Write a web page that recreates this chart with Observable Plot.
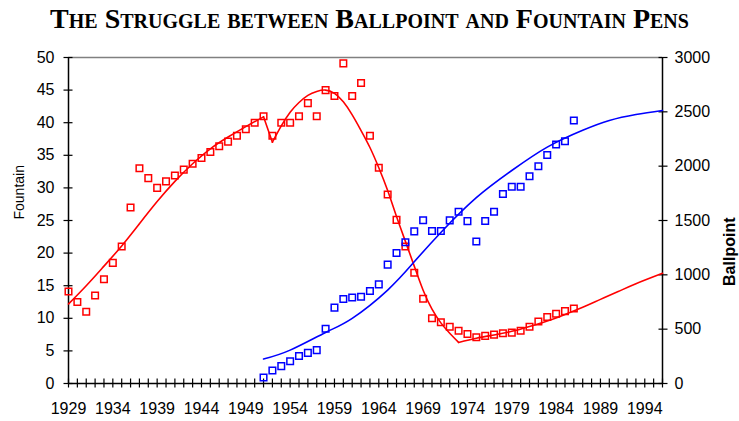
<!DOCTYPE html>
<html>
<head>
<meta charset="utf-8">
<script src="https://cdn.jsdelivr.net/npm/d3@7"></script>
<script src="https://cdn.jsdelivr.net/npm/@observablehq/plot@0.6"></script>
<style>
html, body { margin: 0; padding: 0; background: #fff; }
#wrap { position: relative; width: 739px; height: 421px; }
#title { position: absolute; left: 0; top: 4px; width: 739px; text-align: center;
  font-family: "Liberation Serif", "Times New Roman", serif; font-weight: bold;
  font-variant: small-caps; font-size: 28px; line-height: 30px; color: #000; white-space: nowrap; }
</style>
</head>
<body>
<div id="wrap"><div id="title">The Struggle between Ballpoint and Fountain Pens</div></div>
<script>
// ---- data ----
const xStart = 1929, xEnd = 1996;
const xLabelYears = [1929, 1934, 1939, 1944, 1949, 1954, 1959, 1964, 1969, 1974, 1979, 1984, 1989, 1994];
const leftTicks = [0, 5, 10, 15, 20, 25, 30, 35, 40, 45, 50];
const rightTicks = [0, 500, 1000, 1500, 2000, 2500, 3000];

const fountainStart = 1929;
const fountain = [14.1, 12.5, 11.0, 13.5, 16.0, 18.5, 21.0, 27.0, 33.0, 31.5,
  30.0, 31.0, 31.9, 32.8, 33.7, 34.6, 35.5, 36.4, 37.1, 38.0,
  39.0, 40.0, 41.0, 38.0, 40.0, 40.0, 41.0, 43.0, 41.0, 45.0,
  44.1, 49.1, 44.1, 46.1, 38.0, 33.1, 29.0, 25.1, 21.0, 17.0,
  13.0, 10.0, 9.4, 8.7, 8.1, 7.6, 7.1, 7.3, 7.5, 7.7,
  7.8, 8.1, 8.7, 9.5, 10.2, 10.7, 11.1, 11.5];

const ballpointStart = 1951;
const ballpoint = [55, 120, 160, 204, 253, 282, 307, 503, 698, 778,
  792, 798, 852, 912, 1094, 1201, 1300, 1400, 1502, 1403,
  1403, 1501, 1581, 1494, 1307, 1496, 1581, 1743, 1810, 1810,
  1907, 2000, 2102, 2200, 2230, 2420];

// fitted trend curves (fountain: four pieces)
const fountainTrendYears = [1929, 1931, 1933, 1935, 1937, 1939, 1941, 1943, 1945, 1947, 1949, 1951,
  1951, 1952,
  1952, 1953, 1954, 1955, 1956, 1957, 1958, 1959, 1960, 1961, 1962, 1963, 1964, 1965, 1966, 1967, 1968, 1969, 1970, 1971, 1972, 1973,
  1973, 1975, 1977, 1979, 1981, 1983, 1985, 1987, 1989, 1991, 1993, 1996];
const fountainTrendValues = [12.2, 15.0, 18.0, 21.1, 24.5, 27.9, 31.0, 33.7, 36.0, 37.8, 39.4, 40.9,
  40.9, 37.0,
  37.0, 39.5, 41.6, 43.1, 44.2, 44.8, 45.0, 44.5, 43.2, 41.2, 38.8, 36.2, 33.1, 29.6, 25.6, 21.8, 18.0, 14.3, 11.4, 9.3, 7.7, 6.3,
  6.3, 6.95, 7.45, 8.0, 8.75, 9.6, 10.6, 11.7, 12.9, 14.1, 15.3, 16.9];
const fountainTrendPiece = [1,1,1,1,1,1,1,1,1,1,1,1, 2,2,
  3,3,3,3,3,3,3,3,3,3,3,3,3,3,3,3,3,3,3,3,3,3,
  4,4,4,4,4,4,4,4,4,4,4,4];

const ballpointTrendYears = [1951, 1954, 1958, 1961, 1965, 1968, 1971, 1975, 1979, 1983, 1987, 1990, 1993, 1996];
const ballpointTrendValues = [225, 307, 470, 600, 860, 1120, 1390, 1710, 1960, 2175, 2330, 2420, 2475, 2512];

// ---- build ----
const ratio = rightTicks[rightTicks.length - 1] / leftTicks[leftTicks.length - 1];
const allYears = d3.range(xStart, xEnd + 1);
const fData = fountain.map((v, i) => ({year: fountainStart + i, value: v}));
const bData = ballpoint.map((v, i) => ({year: ballpointStart + i, value: v}));
const fTrend = fountainTrendYears.map((y, i) => ({year: y, value: fountainTrendValues[i], piece: fountainTrendPiece[i]}));
const bTrend = ballpointTrendYears.map((y, i) => ({year: y, value: ballpointTrendValues[i]}));

const chart = Plot.plot({
  width: 739, height: 421,
  marginLeft: 68, marginRight: 77, marginTop: 57, marginBottom: 38,
  style: {fontFamily: '"Liberation Sans", Arial, sans-serif', fontSize: "16px", color: "#000", background: "transparent"},
  x: {domain: [xStart, xEnd]},
  y: {domain: [leftTicks[0], leftTicks[leftTicks.length - 1]]},
  marks: [
    Plot.ruleY([leftTicks[leftTicks.length - 1]], {stroke: "#808080", strokeWidth: 1.5}),
    Plot.axisX({ticks: allYears, tickSize: 9, dy: -4.5, tickFormat: () => "", label: null, strokeWidth: 1.2}),
    Plot.axisX({ticks: xLabelYears, tickSize: 0, tickPadding: 19, tickFormat: d => String(d), label: null}),
    Plot.axisY({anchor: "left", ticks: leftTicks, tickSize: 9, dx: 4.5, tickFormat: () => "", label: null, strokeWidth: 1.2}),
    Plot.axisY({anchor: "left", ticks: leftTicks, tickSize: 0, tickPadding: 14, tickFormat: d => String(d), label: null}),
    Plot.axisY({anchor: "right", ticks: rightTicks.map(v => v / ratio), tickSize: 9, dx: -4.5, tickFormat: () => "", label: null, strokeWidth: 1.2}),
    Plot.axisY({anchor: "right", ticks: rightTicks.map(v => v / ratio), tickSize: 0, tickPadding: 12, tickFormat: v => String(Math.round(v * ratio)), label: null}),
    Plot.ruleX([xStart, xEnd], {stroke: "#000", strokeWidth: 1.5}),
    Plot.ruleY([leftTicks[0]], {stroke: "#000", strokeWidth: 1.5}),
    Plot.line(fTrend, {x: "year", y: "value", z: "piece", stroke: "#ff0000", strokeWidth: 1.6, curve: "natural"}),
    Plot.line(bTrend, {x: "year", y: d => d.value / ratio, stroke: "#0000ff", strokeWidth: 1.6, curve: "natural"}),
    Plot.dot(fData, {x: "year", y: "value", symbol: "square", r: 3.7, stroke: "#ff0000", strokeWidth: 1.5, fill: "none"}),
    Plot.dot(bData, {x: "year", y: d => d.value / ratio, symbol: "square", r: 3.7, stroke: "#0000ff", strokeWidth: 1.5, fill: "none"}),
    Plot.text(["Fountain"], {text: d => d, frameAnchor: "left", dx: -49, dy: -1, rotate: -90, fontSize: 14}),
    Plot.text(["Ballpoint"], {text: d => d, frameAnchor: "right", dx: 67, dy: -3, rotate: -90, fontSize: 16, fontWeight: "bold"})
  ]
});
document.getElementById("wrap").prepend(chart);
</script>
</body>
</html>
